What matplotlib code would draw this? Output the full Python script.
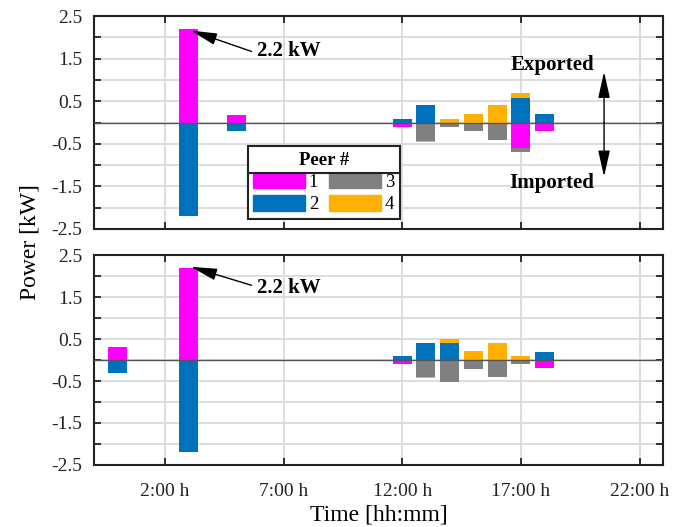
import matplotlib.pyplot as plt
import numpy as np
from matplotlib.lines import Line2D
from matplotlib.patches import Patch

plt.rcParams['font.family'] = ['Liberation Serif', 'DejaVu Serif']

# hourly slots, slot 1 = 0:00 h
slots = np.arange(1, 25)
tick_pos = [3, 8, 13, 18, 23]
tick_labels = ['2:00 h', '7:00 h', '12:00 h', '17:00 h', '22:00 h']
y_ticks = np.arange(-2.5, 2.51, 0.5)
y_labels = ['-2.5', '', '-1.5', '', '-0.5', '', '0.5', '', '1.5', '', '2.5']

peer_names = ['1', '2', '3', '4']
peer_colors = ['#FF00FF', '#0072BD', '#808080', '#FFB000']

# power per peer [kW], top panel
top_p1 = [0, 0, 0, 2.2, 0, 0.18, 0, 0, 0, 0, 0, 0, -0.1, 0, 0, 0, 0, -0.6, -0.2, 0, 0, 0, 0, 0]
top_p2 = [0, 0, 0, -2.2, 0, -0.2, 0, 0, 0, 0, 0, 0, 0.09, 0.4, 0, 0, 0, 0.58, 0.2, 0, 0, 0, 0, 0]
top_p3 = [0, 0, 0, 0, 0, 0, 0, 0, 0, 0, 0, 0, 0, -0.43, -0.11, -0.21, -0.42, -0.1, 0, 0, 0, 0, 0, 0]
top_p4 = [0, 0, 0, 0, 0, 0, 0, 0, 0, 0, 0, 0, 0, -0.02, 0.09, 0.19, 0.4, 0.12, 0, 0, 0, 0, 0, 0]

# power per peer [kW], bottom panel
bot_p1 = [0.3, 0, 0, 2.2, 0, 0, 0, 0, 0, 0, 0, 0, -0.1, 0, 0, 0, 0, 0, -0.2, 0, 0, 0, 0, 0]
bot_p2 = [-0.3, 0, 0, -2.2, 0, 0, 0, 0, 0, 0, 0, 0, 0.1, 0.4, 0.4, 0, 0, 0, 0.2, 0, 0, 0, 0, 0]
bot_p3 = [0, 0, 0, 0, 0, 0, 0, 0, 0, 0, 0, 0, 0, -0.41, -0.52, -0.21, -0.41, -0.1, 0, 0, 0, 0, 0, 0]
bot_p4 = [0, 0, 0, 0, 0, 0, 0, 0, 0, 0, 0, 0, 0, -0.01, 0.1, 0.21, 0.4, 0.1, 0, 0, 0, 0, 0, 0]


def stacked(ax, series):
    pos = np.zeros(len(slots))
    neg = np.zeros(len(slots))
    for vals, col, name in zip(series, peer_colors, peer_names):
        vals = np.array(vals, dtype=float)
        bottom = np.where(vals >= 0, pos, neg)
        ax.bar(slots, vals, width=0.8, bottom=bottom, color=col, label=name, zorder=2)
        pos += np.clip(vals, 0, None)
        neg += np.clip(vals, None, 0)


def style(ax):
    ax.set_xlim(0, 24)
    ax.set_ylim(-2.5, 2.5)
    ax.set_xticks(tick_pos)
    ax.set_yticks(y_ticks)
    ax.set_yticklabels(y_labels)
    ax.grid(True, color='#DDDDDD', lw=1.4, zorder=0)
    ax.set_axisbelow(True)
    ax.axhline(0, color='#555555', lw=1.0, zorder=3)
    ax.tick_params(direction='in', length=5, width=1.3, top=True, right=True, labelsize=14, colors='#222222')
    ax.tick_params(axis='y', pad=8)
    ax.tick_params(axis='x', pad=13)
    for s in ax.spines.values():
        s.set_linewidth(1.5)
        s.set_color('#222222')


arrow_kw = dict(arrowstyle='-|>,head_length=0.8,head_width=0.18', color='black', lw=1.0,
                mutation_scale=20, shrinkA=0, shrinkB=0)

fig = plt.figure(figsize=(6.78, 5.27), dpi=100)
ax1 = fig.add_axes([0.138, 0.5655, 0.8405, 0.404])
ax2 = fig.add_axes([0.138, 0.1177, 0.8405, 0.3983])

stacked(ax1, [top_p1, top_p2, top_p3, top_p4])
stacked(ax2, [bot_p1, bot_p2, bot_p3, bot_p4])
style(ax1)
style(ax2)
ax1.set_xticklabels([])
ax2.set_xticklabels(tick_labels)

# 2.2 kW call-outs
for ax, tail_y, tip_y, txt_y in [(ax1, 1.67, 2.16, 1.68), (ax2, 1.78, 2.22, 1.71)]:
    ax.annotate('', xy=(4.1, tip_y), xytext=(6.65, tail_y), arrowprops=arrow_kw)
    ax.text(6.9, txt_y, '2.2 kW', fontsize=15, fontweight='bold', ha='left', va='center')

ax1.text(19.33, 1.35, 'Exported', fontsize=15, fontweight='bold', ha='center', va='center')
ax1.text(19.3, -1.42, 'Imported', fontsize=15, fontweight='bold', ha='center', va='center')
ax1.annotate('', xy=(21.5, 1.19), xytext=(21.5, 0), arrowprops=arrow_kw)
ax1.annotate('', xy=(21.5, -1.27), xytext=(21.5, 0), arrowprops=arrow_kw)

handles = [Patch(color=c) for c in peer_colors]
leg = ax1.legend(handles, peer_names,
                 ncol=2, loc='lower left', bbox_to_anchor=(0.2707, 0.047), borderaxespad=0,
                 title='Peer #', title_fontproperties={'weight': 'bold', 'size': 13.5},
                 fontsize=13.5, handlelength=2.75, handleheight=0.9, handletextpad=0.2,
                 columnspacing=0.6, labelspacing=0.22, borderpad=0.3,
                 fancybox=False, framealpha=1, edgecolor='#222222')
leg.get_frame().set_linewidth(1.5)
leg.set_zorder(5)

fig.canvas.draw()
tb = leg.get_title().get_window_extent()
lb = leg.get_window_extent()
inv = ax1.transAxes.inverted()
(x0, y_line), = inv.transform([(lb.x0, tb.y0 - 4)])
(x1, _), = inv.transform([(lb.x1, tb.y0 - 4)])
sep = Line2D([x0, x1], [y_line, y_line], transform=ax1.transAxes, color='#222222', lw=1.5, zorder=6)
ax1.add_line(sep)

fig.text(0.044, 0.54, 'Power [kW]', rotation=90, fontsize=17, ha='center', va='center')
ax2.set_xlabel('Time [hh:mm]', fontsize=17, labelpad=3)

fig.savefig('out.png', dpi=100)
